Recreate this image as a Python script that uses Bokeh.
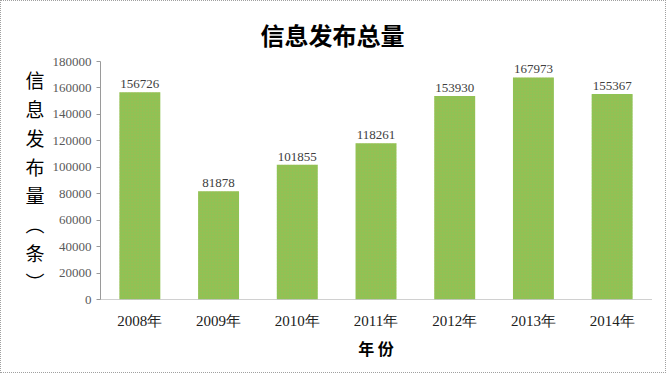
from bokeh.plotting import figure
from bokeh.models import ColumnDataSource, FixedTicker, BasicTickFormatter
from bokeh.core.properties import value
from bokeh.embed import file_html
from bokeh.resources import INLINE

years = ["2008年", "2009年", "2010年", "2011年", "2012年", "2013年", "2014年"]
counts = [156726, 81878, 101855, 118261, 153930, 167973, 155367]
y_ticks = [0, 20000, 40000, 60000, 80000, 100000, 120000, 140000, 160000, 180000]

title_text = "信息发布总量"
y_label_text = "信\n息\n发\n布\n量\n︵\n条\n︶"
x_label_text = "年 份"

src = ColumnDataSource(dict(x=years, y=counts, lab=[str(v) for v in counts]))

W, H = 666, 373
p = figure(x_range=years, y_range=(0, 180000), width=W, height=H,
           output_backend="svg", toolbar_location=None,
           min_border_left=99, min_border_right=16, min_border_top=60, min_border_bottom=75)
p.styles = {"border": "1px dotted #a0a0a0"}
p.outline_line_color = None
p.xgrid.grid_line_color = None
p.ygrid.grid_line_color = None
p.background_fill_color = "white"
p.border_fill_color = "white"

p.title.text = title_text
p.title.align = "left"
p.title.offset = 160
p.title.text_font = "Noto Sans CJK SC"
p.title.text_font_style = "bold"
p.title.text_font_size = "24px"
p.title.text_color = "#000000"
p.title.standoff = 20

p.vbar(x="x", top="y", width=0.52, source=src, fill_color="#8EC355",
       line_color=None, hatch_pattern="dot", hatch_color="#B9A84A",
       hatch_scale=3, hatch_alpha=0.5)

p.text(x="x", y="y", text="lab", source=src, text_align="center",
       text_baseline="bottom", y_offset=-4, text_font=value("Liberation Serif"),
       text_font_size="13px", text_color="#404040")

p.yaxis.ticker = FixedTicker(ticks=y_ticks)
p.yaxis.formatter = BasicTickFormatter(use_scientific=False)
p.yaxis.major_label_text_font = "Liberation Serif"
p.yaxis.major_label_text_font_size = "13px"
p.yaxis.major_label_text_color = "#595959"
p.yaxis.axis_line_color = "#9a9a9a"
p.yaxis.major_tick_line_color = "#9a9a9a"
p.yaxis.major_tick_out = 4
p.yaxis.major_tick_in = 0
p.yaxis.minor_tick_line_color = None
p.yaxis.major_label_standoff = 5
p.yaxis.axis_label = y_label_text
p.yaxis.axis_label_orientation = "horizontal"
p.yaxis.axis_label_text_font = "Noto Sans CJK SC"
p.yaxis.axis_label_text_font_style = "normal"
p.yaxis.axis_label_text_font_size = "19px"
p.yaxis.axis_label_text_line_height = 1.07
p.yaxis.axis_label_text_color = "#000000"
p.yaxis.axis_label_standoff = 5

p.xaxis.major_label_text_font = "Liberation Serif"
p.xaxis.major_label_text_font_size = "15px"
p.xaxis.major_label_text_color = "#202020"
p.xaxis.axis_line_color = "#a0a0a0"
p.xaxis.axis_line_dash = "1 1"
p.xaxis.major_tick_line_color = None
p.xaxis.minor_tick_line_color = None
p.xaxis.major_label_standoff = 7
p.xaxis.axis_label = x_label_text
p.xaxis.axis_label_text_font = "Noto Sans CJK SC"
p.xaxis.axis_label_text_font_style = "bold"
p.xaxis.axis_label_text_font_size = "16px"
p.xaxis.axis_label_text_color = "#000000"
p.xaxis.axis_label_standoff = 4

open("out.html", "w").write(file_html(p, INLINE))
